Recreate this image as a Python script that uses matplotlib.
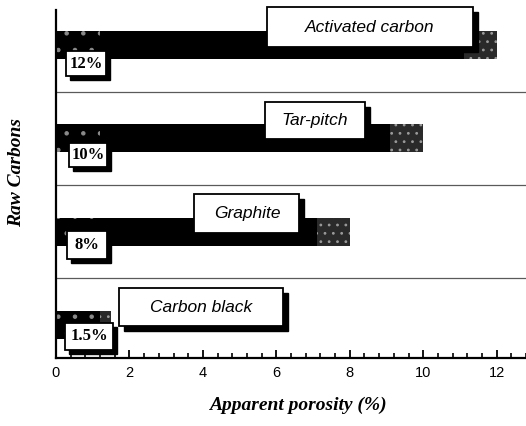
import matplotlib
matplotlib.use("Agg")
import matplotlib.pyplot as plt
from matplotlib.patches import Rectangle
from matplotlib.transforms import ScaledTranslation
from matplotlib.ticker import MultipleLocator

# ---- data (bottom to top) ----
categories = ["Carbon black", "Graphite", "Tar-pitch", "Activated carbon"]
porosity = [1.5, 8, 10, 12]
value_labels = ["1.5%", "8%", "10%", "12%"]
xticks = [0, 2, 4, 6, 8, 10, 12]

# ---- layout (annotation anchors, not data) ----
name_box_x = [3.95, 5.2, 7.05, 8.55]
name_box_dy = 0.19
name_box_size = [(164, 38), (105, 39), (100, 37), (206, 40)]
val_box_x = [0.9, 0.85, 0.87, 0.83]
val_box_dy = [-0.12, -0.14, -0.18, -0.20]
val_box_size = [(48, 27), (40, 28), (38, 24), (40, 25)]

DPI = 100
plt.rcParams["hatch.linewidth"] = 0.8
fig = plt.figure(figsize=(5.26, 4.26), dpi=DPI)
ax = fig.add_axes([56 / 526, 68 / 426, 470 / 526, 348 / 426])

pos = list(range(len(categories)))
ax.barh(pos, porosity, height=0.3, color="black", zorder=2)
# speckled (dithered) start and end of each bar, as in the scanned original
cap_w = [min(0.9, v) for v in porosity]
ax.barh(pos, cap_w, left=[v - c for v, c in zip(porosity, cap_w)], height=0.3,
        facecolor="#2a2a2a", edgecolor="#9a9a9a", linewidth=0, hatch="..", zorder=2)
start_w = [min(1.2, v) for v in porosity]
ax.barh(pos, start_w, height=0.3, facecolor="black", edgecolor="#8a8a8a",
        linewidth=0, hatch=".", zorder=2)

for g in [0.5, 1.5, 2.5]:
    ax.axhline(g, color="#5a5a5a", lw=0.9, zorder=1)

ax.set_xlim(0, 12.8)
ax.set_ylim(-0.355, 3.375)

for s in ["top", "right"]:
    ax.spines[s].set_visible(False)
ax.spines["left"].set_linewidth(1.6)
ax.spines["bottom"].set_linewidth(1.6)

ax.set_yticks([])
ax.set_xticks(xticks)
ax.set_xticklabels([str(t) for t in xticks], fontfamily="Liberation Sans", fontsize=10.5)
ax.xaxis.set_minor_locator(MultipleLocator(0.4))
ax.tick_params(axis="x", which="major", direction="in", length=6, width=1.3, pad=6)
ax.tick_params(axis="x", which="minor", direction="in", length=3.5, width=1.2)


def shadow_box(x, y, w, h, text, shadow, fontkw):
    trans = fig.dpi_scale_trans + ScaledTranslation(x, y, ax.transData)
    ax.add_patch(Rectangle(((-w / 2 + shadow) / DPI, (-h / 2 - shadow) / DPI), w / DPI, h / DPI,
                           facecolor="black", edgecolor="black", lw=1, transform=trans,
                           zorder=5, clip_on=False))
    ax.add_patch(Rectangle((-w / 2 / DPI, -h / 2 / DPI), w / DPI, h / DPI,
                           facecolor="white", edgecolor="black", lw=1.3, transform=trans,
                           zorder=6, clip_on=False))
    ax.text(x, y, text, ha="center", va="center", zorder=7, **fontkw)


for i, name in enumerate(categories):
    w, h = name_box_size[i]
    shadow_box(name_box_x[i], pos[i] + name_box_dy, w, h, name, 5,
               dict(fontfamily="Liberation Sans", fontstyle="italic", fontsize=12.5))
    w, h = val_box_size[i]
    shadow_box(val_box_x[i], pos[i] + val_box_dy[i], w, h, value_labels[i], 4,
               dict(fontfamily="Liberation Serif", fontweight="bold", fontsize=12))

fig.text(298 / 526, 1 - 405 / 426, "Apparent porosity (%)", ha="center", va="center",
         fontfamily="Liberation Serif", fontstyle="italic", fontweight="bold", fontsize=14)
fig.text(17 / 526, 1 - 172 / 426, "Raw Carbons", ha="center", va="center", rotation=90,
         fontfamily="Liberation Serif", fontstyle="italic", fontweight="bold", fontsize=14)

fig.savefig("out.png", dpi=DPI)
